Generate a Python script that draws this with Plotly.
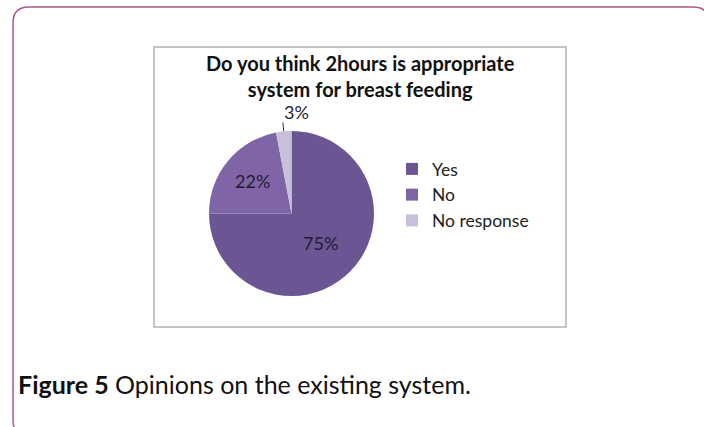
import math
import plotly.graph_objects as go

# ---- data ----
labels = ["Yes", "No", "No response"]
values = [75, 22, 3]
colors = ["#6b5592", "#7f64a6", "#c8bfda"]
title_text = "Do you think 2hours is appropriate<br>system for breast feeding"
caption_bold = "Figure 5"
caption_rest = " Opinions on the existing system."

W, H = 704, 427
FONT = "Lato, 'Open Sans', sans-serif"


def px(x):
    return x / W


def py(y):
    return 1 - y / H


# pie geometry (pixels)
cx, cy, r = 291.5, 213.5, 82.5
total = sum(values)
pct = [f"{round(100 * v / total)}%" for v in values]

fig = go.Figure()
fig.add_trace(go.Pie(
    labels=labels,
    values=values,
    sort=False,
    direction="clockwise",
    rotation=0,
    marker=dict(colors=colors, line=dict(width=0)),
    text=[pct[0], pct[1], ""],
    textinfo="text",
    textposition="inside",
    insidetextorientation="horizontal",
    textfont=dict(family=FONT, size=18, color="#241c35"),
    domain=dict(x=[px(cx - r), px(cx + r)], y=[py(cy + r), py(cy - r)]),
    showlegend=True,
    automargin=False,
    hoverinfo="label+percent",
))

shapes = []
# leader tick for the small outside slice, computed from data
cum = sum(values[:2]) / total
mid = (cum + values[2] / total / 2) * 2 * math.pi
x0 = cx + r * math.sin(mid)
y0 = cy - r * math.cos(mid)
x1 = cx + (r + 9) * math.sin(mid)
y1 = cy - (r + 9) * math.cos(mid)
shapes.append(dict(type="line", xref="paper", yref="paper",
                   x0=px(x0), y0=py(y0), x1=px(x1), y1=py(y1),
                   line=dict(color="#333333", width=1)))

# chart box
shapes.append(dict(type="rect", xref="paper", yref="paper",
                   x0=px(154), y0=py(327), x1=px(566), y1=py(47),
                   line=dict(color="#c4c4c4", width=2), layer="below"))

# outer rounded frame
L, T, R, B, rad = 13, 7, 709, 436, 16
path = (f"M {px(L)},{py(T + rad)} "
        f"Q {px(L)},{py(T)} {px(L + rad)},{py(T)} "
        f"L {px(R - rad)},{py(T)} "
        f"Q {px(R)},{py(T)} {px(R)},{py(T + rad)} "
        f"L {px(R)},{py(B - rad)} "
        f"Q {px(R)},{py(B)} {px(R - rad)},{py(B)} "
        f"L {px(L + rad)},{py(B)} "
        f"Q {px(L)},{py(B)} {px(L)},{py(B - rad)} Z")
shapes.append(dict(type="path", xref="paper", yref="paper", path=path,
                   line=dict(color="#a85a8e", width=1.5), layer="below"))

annotations = [
    dict(text="<b>" + title_text + "</b>", xref="paper", yref="paper",
         x=px(360), y=py(76), xanchor="center", yanchor="middle",
         showarrow=False, align="center",
         font=dict(family=FONT, size=20, color="#111111")),
    dict(text=pct[2], xref="paper", yref="paper",
         x=px(x1 - 1), y=py(y1 - 10), xanchor="left", yanchor="middle",
         showarrow=False,
         font=dict(family=FONT, size=18, color="#241c35")),
    dict(text="<b>" + caption_bold + "</b>" + caption_rest,
         xref="paper", yref="paper", x=px(16), y=py(384),
         xanchor="left", yanchor="middle", showarrow=False,
         font=dict(family=FONT, size=25, color="#111111")),
]

fig.update_layout(
    width=W, height=H,
    margin=dict(l=0, r=0, t=0, b=0),
    paper_bgcolor="white",
    plot_bgcolor="white",
    shapes=shapes,
    annotations=annotations,
    legend=dict(x=px(392), y=py(195), xanchor="left", yanchor="middle",
                font=dict(family=FONT, size=17.5, color="#222222"),
                itemwidth=30, tracegroupgap=0, bgcolor="rgba(0,0,0,0)"),
)

fig.write_html("out.html")
